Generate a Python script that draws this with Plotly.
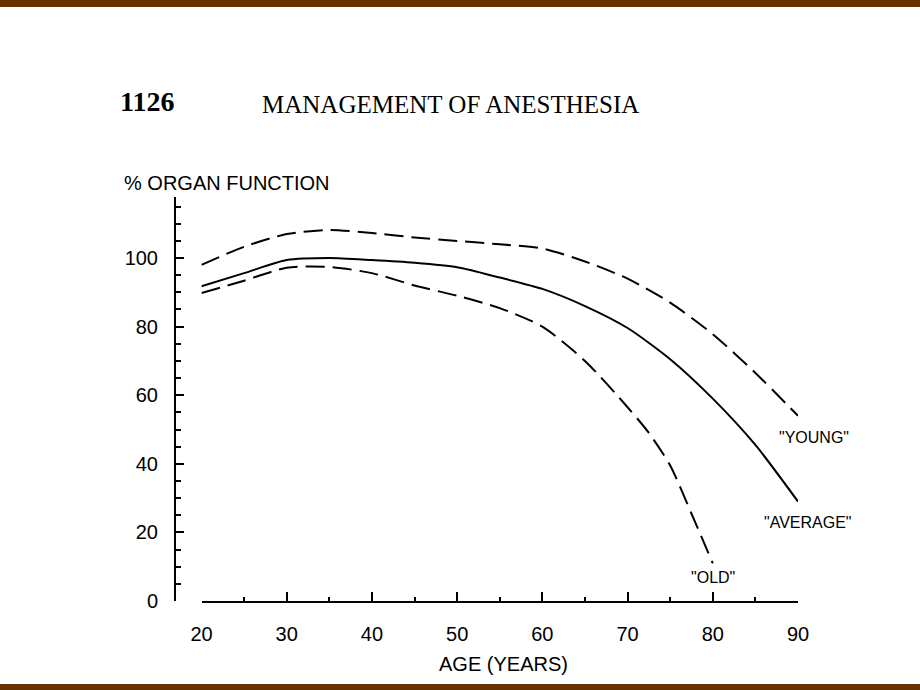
import plotly.graph_objects as go

ages = [20, 25, 30, 35, 40, 45, 50, 55, 60, 65, 70, 75, 80, 85, 90]
young = [98.0, 103.3, 107.0, 108.2, 107.3, 106.0, 105.0, 104.0, 102.8, 99.0, 94.0, 87.0, 77.8, 66.5, 54.0]
average = [91.8, 95.6, 99.4, 100.0, 99.4, 98.6, 97.3, 94.3, 91.0, 86.0, 79.6, 70.5, 59.0, 45.5, 29.0]
old_ages = [20, 25, 30, 35, 40, 45, 50, 55, 60, 65, 70, 72.5, 75, 77.5, 80]
old = [89.8, 93.4, 97.2, 97.4, 95.6, 92.0, 89.0, 85.4, 80.0, 70.0, 56.5, 49.0, 39.5, 25.5, 11.0]

x_ticks = [20, 30, 40, 50, 60, 70, 80, 90]
y_ticks = [0, 20, 40, 60, 80, 100]

W, H = 920, 690
L, R, T, B = 175, 798, 197, 601


def px(x):
    return (x - L) / (R - L)


def py(y):
    return (B - y) / (B - T)


fig = go.Figure()
line_kw = dict(color="black", width=2, shape="spline", smoothing=0.7)
fig.add_trace(go.Scatter(x=ages, y=young, mode="lines", line=dict(dash="19px,8px", **line_kw), showlegend=False))
fig.add_trace(go.Scatter(x=ages, y=average, mode="lines", line=dict(**line_kw), showlegend=False))
fig.add_trace(go.Scatter(x=old_ages, y=old, mode="lines", line=dict(dash="19px,8px", **line_kw), showlegend=False))

tickfont = dict(family="Liberation Sans, Arial, sans-serif", size=20, color="black")
brown = "#663300"

fig.update_layout(
    width=W, height=H,
    margin=dict(l=L, r=W - R, t=T, b=H - B, pad=0),
    paper_bgcolor="white", plot_bgcolor="white",
    xaxis=dict(
        domain=[px(201.5), 1], range=[20, 90], tickvals=x_ticks,
        ticks="inside", ticklen=9, tickwidth=1.5, tickcolor="black",
        showline=True, linecolor="black", linewidth=2,
        showgrid=False, zeroline=False, tickfont=tickfont, ticklabelstandoff=14,
        minor=dict(dtick=5, tick0=0, ticks="inside", ticklen=4, tickwidth=1.5, tickcolor="black", showgrid=False),
    ),
    yaxis=dict(
        anchor="free", position=0, range=[0, 117.8], tickvals=y_ticks,
        ticks="inside", ticklen=8, tickwidth=1.5, tickcolor="black",
        showline=True, linecolor="black", linewidth=2,
        showgrid=False, zeroline=False, tickfont=tickfont, ticklabelstandoff=12,
        minor=dict(dtick=5, tick0=0, ticks="inside", ticklen=5, tickwidth=1.5, tickcolor="black", showgrid=False),
    ),
    shapes=[
        dict(type="rect", xref="paper", yref="paper", x0=px(0), x1=px(W), y0=py(0), y1=py(7), fillcolor=brown, line=dict(width=0), layer="above"),
        dict(type="rect", xref="paper", yref="paper", x0=px(0), x1=px(W), y0=py(684), y1=py(H), fillcolor=brown, line=dict(width=0), layer="above"),
    ],
)

sans = "Liberation Sans, Arial, sans-serif"
serif = "Liberation Serif, Times New Roman, serif"
ann = [
    ("1126", 118, 101, serif, 28, True),
    ("MANAGEMENT OF ANESTHESIA", 260, 104, serif, 25, False),
    ("% ORGAN FUNCTION", 122, 183, sans, 20, False),
    ('"YOUNG"', 777, 437, sans, 16, False),
    ('"AVERAGE"', 762, 522, sans, 16, False),
    ('"OLD"', 689, 577, sans, 16, False),
]
for text, x, y, fam, size, bold in ann:
    fig.add_annotation(
        text=f"<b>{text}</b>" if bold else text, x=px(x), y=py(y), xref="paper", yref="paper",
        xanchor="left", yanchor="middle", showarrow=False,
        font=dict(family=fam, size=size, color="black"),
    )
fig.add_annotation(
    text="AGE (YEARS)", x=px(503), y=py(664), xref="paper", yref="paper",
    xanchor="center", yanchor="middle", showarrow=False,
    font=dict(family=sans, size=20, color="black"),
)

fig.write_html(
    "out.html",
    config={"displayModeBar": False},
    post_script="document.body.style.margin='0';document.body.style.overflow='hidden';",
)
